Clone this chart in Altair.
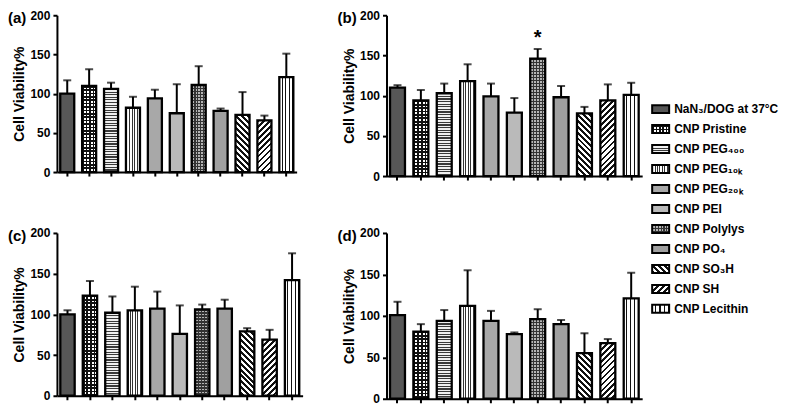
import math
import altair as alt
import pandas as pd

FONT = "Liberation Sans"

categories = ["NaN₃/DOG at 37°C", "CNP Pristine", "CNP PEG₄₀₀", "CNP PEG₁₀ₖ", "CNP PEG₂₀ₖ",
              "CNP PEI", "CNP Polylys", "CNP PO₄", "CNP SO₃H", "CNP SH", "CNP Lecithin"]
panel_labels = ["(a)", "(b)", "(c)", "(d)"]

viability_a = [100, 110, 106, 82, 94, 75, 111, 78, 73, 66, 121]
upper_a = [117, 131, 114, 96, 105, 112, 135, 81, 102, 72, 151]
viability_b = [110, 94, 103, 118, 99, 79, 146, 98, 78, 94, 101]
upper_b = [113, 107, 115, 139, 115, 97, 158, 112, 86, 114, 116]
viability_c = [100, 123, 102, 105, 107, 76, 106, 107, 79, 69, 142]
upper_c = [105, 141, 122, 134, 128, 111, 112, 118, 83, 81, 175]
viability_d = [101, 81, 94, 112, 94, 78, 96, 90, 55, 67, 121]
upper_d = [117, 90, 107, 155, 106, 80, 108, 95, 79, 72, 152]

y_ticks = [0, 50, 100, 150, 200]
star_panel = 1
star_index = 6

PI, PO = 0.36, 0.15
CLEAR = "rgba(0,0,0,0)"


def periodic(c1, c2, frac, dt, t0=0.0, t1=1.0):
    stops = []
    k = int(math.floor(t0 / dt))
    while k * dt < t1 and len(stops) < 3000:
        s = k * dt
        m = s + frac * dt
        e = s + dt
        for off, col in ((s, c1), (m, c1), (m, c2), (e, c2)):
            o = min(max(off, 0.0), 1.0)
            stops.append(alt.GradientStop(offset=round(o, 5), color=col))
        k += 1
    return stops


def vgrad(c1, c2, frac, period, w):
    n = max(1, round(w / period))
    return alt.LinearGradient(gradient="linear", x1=0, y1=0, x2=1, y2=0,
                              stops=periodic(c1, c2, frac, 1.0 / n))


def hgrad(c1, c2, frac, period, h):
    return alt.LinearGradient(gradient="linear", x1=0, y1=0, x2=0, y2=1,
                              stops=periodic(c1, c2, frac, period / h))


def dfwd(c1, c2, frac, pperp, w, h):
    q = pperp * math.sqrt(2)
    c = max(1.0, w * (w + h) / (w * w + h * h))
    dt = w * q / (c * (w * w + h * h))
    return alt.LinearGradient(gradient="linear", x1=0, y1=0, x2=c, y2=c * h / w,
                              stops=periodic(c1, c2, frac, dt))


def dback(c1, c2, frac, pperp, w, h):
    q = pperp * math.sqrt(2)
    c = max(1.0, w / h)
    dt = w * q / (c * (w * w + h * h))
    t0 = max(0.0, (c * h * h - w * h) / (c * (w * w + h * h)))
    return alt.LinearGradient(gradient="linear", x1=0, y1=c * h / w, x2=c, y2=0,
                              stops=periodic(c1, c2, frac, dt, t0=t0))


def fills(i, w, h):
    if i == 0:
        return ["#575757"]
    if i == 1:
        return [vgrad("#111111", "#ffffff", 0.5, 3.4, w), hgrad("#111111", CLEAR, 0.5, 3.4, h)]
    if i == 2:
        return [hgrad("#3a3a3a", "#f0f0f0", 0.45, 2.6, h)]
    if i == 3:
        return [vgrad("#333333", "#ffffff", 0.4, 2.6, w)]
    if i == 4:
        return ["#a8a8a8"]
    if i == 5:
        return ["#bababa"]
    if i == 6:
        return [vgrad("#333333", "#b5b5b5", 0.38, 3.0, w), hgrad("#333333", CLEAR, 0.38, 3.0, h)]
    if i == 7:
        return ["#a0a0a0"]
    if i == 8:
        return [dback("#111111", "#ffffff", 0.5, 4.2, w, h)]
    if i == 9:
        return [dfwd("#111111", "#ffffff", 0.45, 4.2, w, h)]
    return [vgrad("#ffffff", "#111111", 0.72, w / 4.0, w)]


def panel(k, vals, ups, W, H):
    df = pd.DataFrame({"cat": categories, "idx": list(range(len(categories))),
                       "value": vals, "upper": ups})
    xs = alt.Scale(domain=categories, paddingInner=PI, paddingOuter=PO)
    ys = alt.Scale(domain=[0, 200], nice=False, zero=True)
    yax = alt.Axis(title="Cell Viability%", values=y_ticks, labelPadding=3, titlePadding=3)
    xax = alt.Axis(labels=False, title=None, ticks=True)
    X = alt.X("cat:N", scale=xs, axis=xax)
    Y = alt.Y("value:Q", scale=ys, axis=yax)
    base = alt.Chart(df)
    n = len(categories)
    step = W / (n - PI + 2 * PO)
    bw = step * (1 - PI)
    layers = []
    for i in range(n):
        h = vals[i] / 200 * H
        for f in fills(i, bw, h):
            layers.append(base.transform_filter(alt.datum.idx == i)
                          .mark_bar(fill=f).encode(x=X, y=Y))
    layers.append(base.mark_bar(fillOpacity=0, stroke="black", strokeWidth=2.3).encode(x=X, y=Y))
    layers.append(base.mark_rule(color="black", strokeWidth=2).encode(x=X, y=Y, y2="upper:Q"))
    layers.append(base.mark_tick(color="black", thickness=2, size=8)
                  .encode(x=X, y=alt.Y("upper:Q", scale=ys, axis=yax)))
    if k == star_panel:
        layers.append(base.transform_filter(alt.datum.idx == star_index)
                      .mark_text(text="*", fontSize=20, fontWeight="bold", font=FONT,
                                 baseline="bottom", dy=-1, color="black")
                      .encode(x=X, y=alt.Y("upper:Q", scale=ys, axis=yax)))
    layers.append(alt.Chart(alt.Data(values=[{"t": panel_labels[k]}]))
                  .mark_text(align="left", baseline="middle", fontSize=15, fontWeight="bold",
                             font=FONT, color="black")
                  .encode(x=alt.value(-49), y=alt.value(3), text="t:N"))
    return alt.layer(*layers).properties(width=W, height=H)


pa = panel(0, viability_a, upper_a, 240, 157)
pb = panel(1, viability_b, upper_b, 256, 161)
pc = panel(2, viability_c, upper_c, 246, 163)
pd_ = panel(3, viability_d, upper_d, 256, 166)

# legend
leg_df = pd.DataFrame({"name": categories, "row": list(range(len(categories)))})
lscale = alt.Scale(domain=[-4.7, 3.35], reverse=True, nice=False, zero=False)
lbase = alt.Chart(leg_df).transform_calculate(lo="datum.row - 0.2", hi="datum.row + 0.2")
LX0, LX1, LT = -74, -57, -52
leg_layers = []
for i in range(len(categories)):
    for f in fills(i, 17, 8):
        leg_layers.append(lbase.transform_filter(alt.datum.row == i).mark_rect(fill=f)
                          .encode(x=alt.value(LX0), x2=alt.value(LX1),
                                  y=alt.Y("lo:Q", scale=lscale, axis=None), y2="hi:Q"))
leg_layers.append(lbase.mark_rect(fillOpacity=0, stroke="black", strokeWidth=2)
                  .encode(x=alt.value(LX0), x2=alt.value(LX1),
                          y=alt.Y("lo:Q", scale=lscale, axis=None), y2="hi:Q"))
leg_layers.append(lbase.mark_text(align="left", baseline="middle", fontSize=12, fontWeight="bold",
                                  font=FONT, color="black")
                  .encode(x=alt.value(LT), y=alt.Y("row:Q", scale=lscale, axis=None), text="name:N"))
legend = alt.layer(*leg_layers).properties(width=20, height=161)

chart = alt.concat(pa, pb, legend, pc, pd_, columns=3, bounds="flush", align="each",
                   spacing=alt.RowColnumber(row=57, column=84)).properties(
    padding={"top": 1, "left": 0, "right": 0, "bottom": 0}
).configure_view(stroke=None).configure_axis(
    domainColor="black", domainWidth=2, tickColor="black", tickWidth=2, tickSize=4,
    labelFont=FONT, labelFontSize=12, labelFontWeight="bold", labelColor="black",
    titleFont=FONT, titleFontSize=14, titleFontWeight="bold", titleColor="black", grid=False
)

chart.save("out.html", embed_options={"renderer": "svg", "actions": False})
